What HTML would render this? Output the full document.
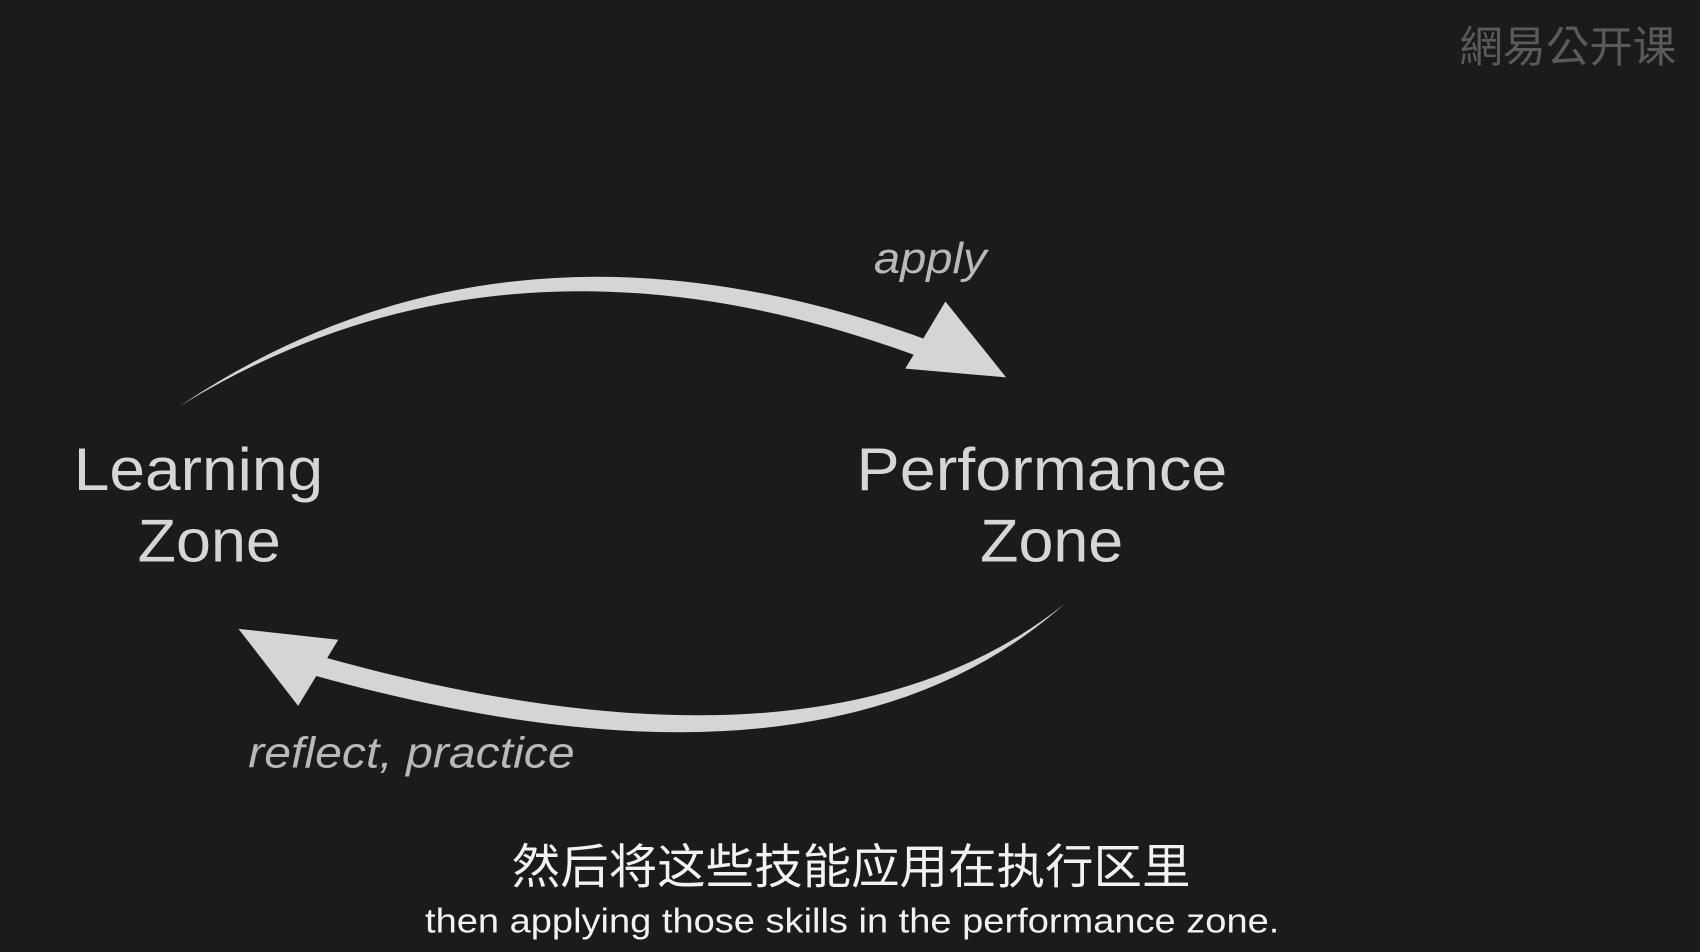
<!DOCTYPE html>
<html><head><meta charset="utf-8"><style>
html,body{margin:0;padding:0;background:#1b1b1b;}
svg{display:block;}
</style></head><body>
<svg width="1700" height="952" viewBox="0 0 1568 878" xmlns="http://www.w3.org/2000/svg">
<rect width="1568" height="878" fill="#1b1b1b"/>
<text x="1446" y="57" font-family="'Noto Sans CJK TC','WenQuanYi Zen Hei',sans-serif" font-size="40" fill="#5a5a5a" text-anchor="middle">網易公开课</text>
<!-- top arrow -->
<path d="M165,375 Q470,170 862,316 L853,331 Q470,187 165,375 Z" fill="#d4d6d4"/>
<polygon points="872,278 928,348 835,340" fill="#d4d6d4"/>
<!-- bottom arrow -->
<path d="M982,557 Q760,754 290,623 L298,606 Q760,734 982,557 Z" fill="#d4d6d4"/>
<polygon points="220,580 312,590 275,651" fill="#d4d6d4"/>
<g font-family="'Liberation Sans',sans-serif" fill="#d6d6d6" font-size="56">
<text x="68" y="452" textLength="230" lengthAdjust="spacingAndGlyphs">Learning</text>
<text x="127" y="518" textLength="132" lengthAdjust="spacingAndGlyphs">Zone</text>
<text x="790" y="452" textLength="342" lengthAdjust="spacingAndGlyphs">Performance</text>
<text x="904" y="518" textLength="132" lengthAdjust="spacingAndGlyphs">Zone</text>
</g>
<g font-family="'Liberation Sans',sans-serif" font-style="italic" fill="#b8b8b8" font-size="40">
<text x="806" y="252" textLength="104" lengthAdjust="spacingAndGlyphs">apply</text>
<text x="229" y="708" textLength="301" lengthAdjust="spacingAndGlyphs">reflect, practice</text>
</g>
<text x="472" y="815" font-family="'Liberation Sans','Noto Sans CJK SC',sans-serif" font-size="44" fill="#f2f2f2" textLength="626" lengthAdjust="spacingAndGlyphs">然后将这些技能应用在执行区里</text>
<text x="392" y="860" font-family="'Liberation Sans',sans-serif" font-size="32" fill="#f2f2f2" textLength="788" lengthAdjust="spacingAndGlyphs">then applying those skills in the performance zone.</text>
</svg>
</body></html>
